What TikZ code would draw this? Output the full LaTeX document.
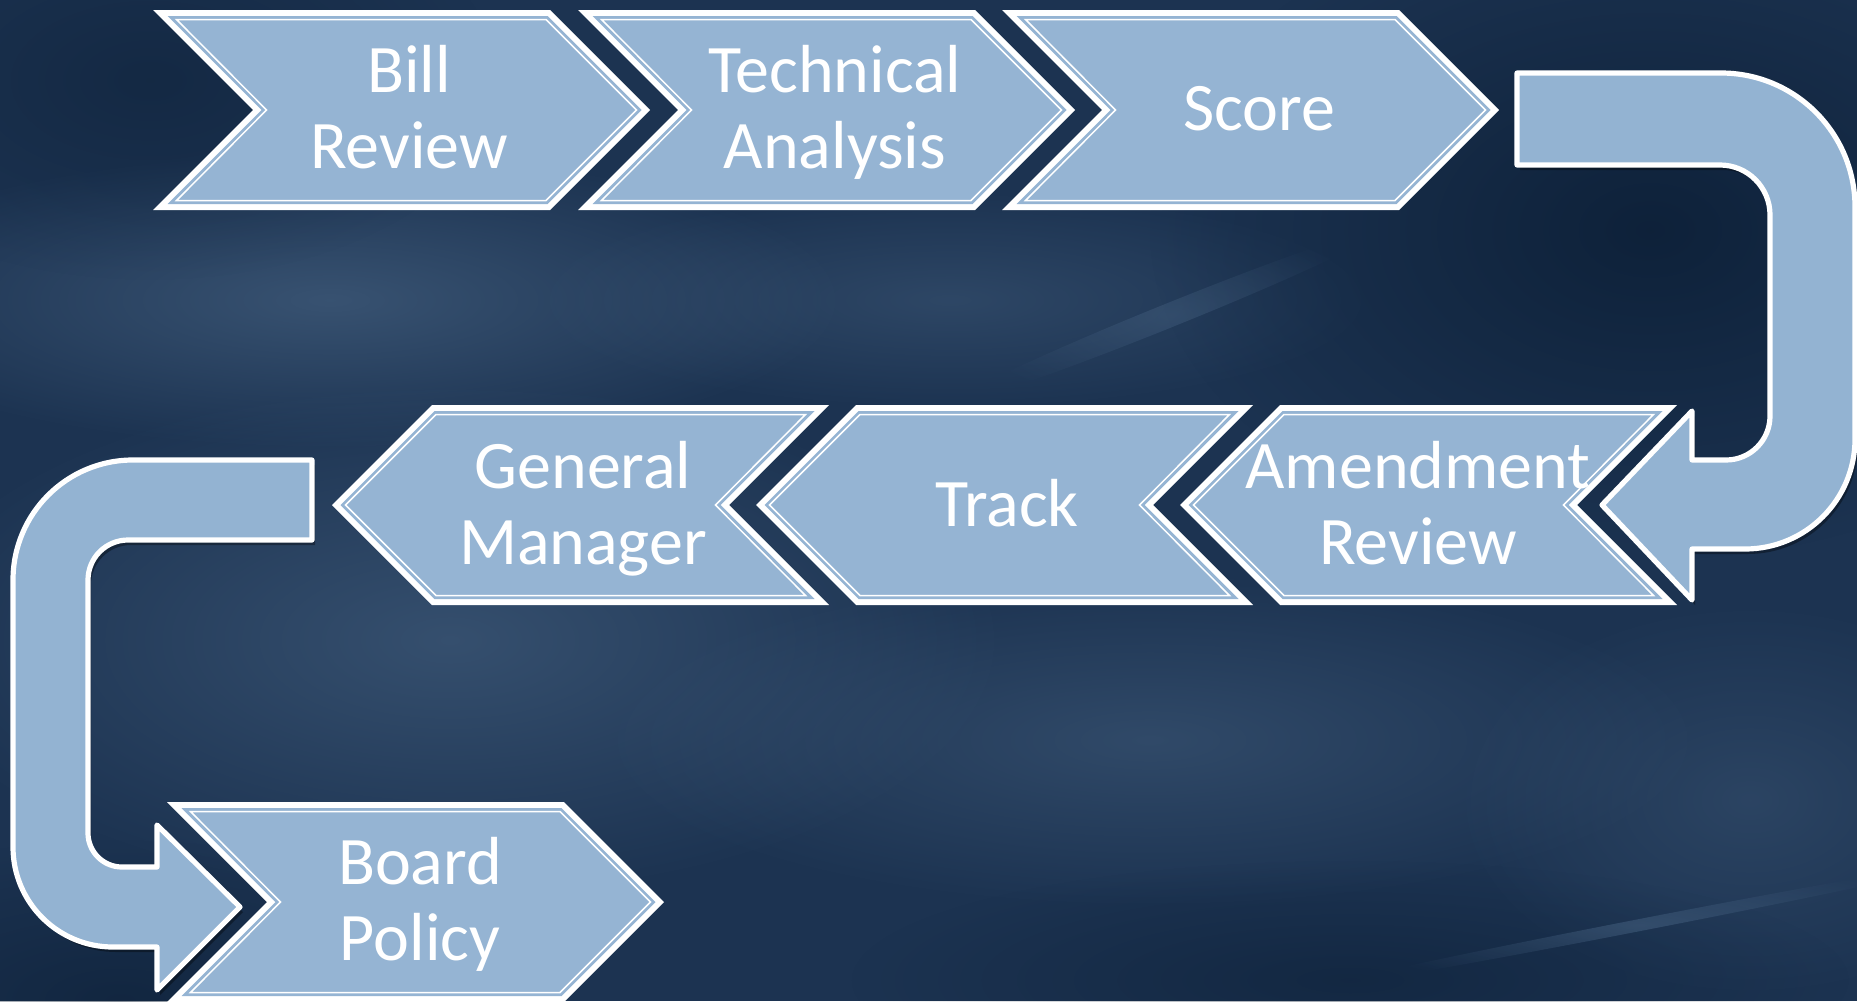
\documentclass[tikz,border=0pt]{standalone}
\usepackage{fontspec}
\setmainfont{Carlito}
\usetikzlibrary{fadings}
\tikzfading[name=softblob, inner color=transparent!0, outer color=transparent!100]
\definecolor{bgbase}{HTML}{1C3351}
\definecolor{bglight}{HTML}{4F6C8C}
\definecolor{bgdark}{HTML}{081A30}
\definecolor{chev}{HTML}{95B4D3}
\definecolor{uarrow}{HTML}{93B3D2}
\tikzset{
  lbl/.style={text=white, align=center, font=\fontsize{34}{38}\selectfont, inner sep=0pt},
  glow/.style={fill=bglight, path fading=softblob},
  shade/.style={fill=bgdark, path fading=softblob},
  uarr/.style={fill=uarrow, draw=white, line width=2.6pt, line join=round,
    preaction={fill=black, opacity=0.35, transform canvas={shift={(1.5pt,-2.5pt)}}}},
}
% right-pointing chevron: #1 name, #2 left x, #3 middle y, #4 text x, #5 text
\newcommand\rchev[5]{%
  \fill[white] (#2,{#3-100}) -- ({#2+397},{#3-100}) -- ({#2+497},#3) -- ({#2+397},{#3+100}) -- (#2,{#3+100}) -- ({#2+100},#3) -- cycle;
  \fill[chev] ({#2+14.5},{#3-94}) -- ({#2+394.5},{#3-94}) -- ({#2+488.5},#3) -- ({#2+394.5},{#3+94}) -- ({#2+14.5},{#3+94}) -- ({#2+108.5},#3) -- cycle;
  \draw[white, line width=0.75pt] ({#2+23.5},{#3-90.5}) -- ({#2+393},{#3-90.5}) -- ({#2+483.5},#3) -- ({#2+393},{#3+90.5}) -- ({#2+23.5},{#3+90.5}) -- ({#2+113.5},#3) -- cycle;
  \node[lbl] (#1) at (#4,{#3+5}) {#5};
}
% left-pointing chevron: #1 name, #2 tip x, #3 middle y, #4 text x, #5 text
\newcommand\lchev[5]{%
  \fill[white] (#2,#3) -- ({#2+100},{#3-100}) -- ({#2+497},{#3-100}) -- ({#2+397},#3) -- ({#2+497},{#3+100}) -- ({#2+100},{#3+100}) -- cycle;
  \fill[chev] ({#2+8.5},#3) -- ({#2+102.5},{#3-94}) -- ({#2+482.5},{#3-94}) -- ({#2+388.5},#3) -- ({#2+482.5},{#3+94}) -- ({#2+102.5},{#3+94}) -- cycle;
  \draw[white, line width=0.75pt] ({#2+13.5},#3) -- ({#2+104},{#3-90.5}) -- ({#2+473.5},{#3-90.5}) -- ({#2+383.5},#3) -- ({#2+473.5},{#3+90.5}) -- ({#2+104},{#3+90.5}) -- cycle;
  \node[lbl] (#1) at (#4,{#3+6}) {#5};
}
\begin{document}
\begin{tikzpicture}[x=0.5pt, y=-0.5pt]
\useasboundingbox (0,0) rectangle (1857,1001);
% background
\fill[bgbase] (0,0) rectangle (1857,1001);
\fill[glow, opacity=0.55] (330,300) ellipse (520 and 150);
\fill[glow, opacity=0.5] (450,640) ellipse (560 and 260);
\fill[glow, opacity=0.4] (1150,740) ellipse (560 and 170);
\fill[glow, opacity=0.35] (950,300) ellipse (430 and 110);
\fill[glow, opacity=0.3] (1750,800) ellipse (300 and 200);
\fill[shade, opacity=0.7] (1650,230) ellipse (500 and 330);
\fill[shade, opacity=0.5] (120,1000) ellipse (380 and 160);
\fill[shade, opacity=0.45] (1350,980) ellipse (500 and 120);
\fill[shade, opacity=0.4] (150,80) ellipse (350 and 200);
\fill[glow, opacity=0.35, rotate around={22:(1170,315)}] (1170,315) ellipse (230 and 12);
\fill[glow, opacity=0.45, rotate around={11:(1640,925)}] (1640,925) ellipse (320 and 6);
% U-turn arrows
\path[uarr] (1517,73) [rounded corners=67pt] -- (1855,73) [rounded corners=55pt] -- (1855,549) [sharp corners] -- (1692,549) -- (1692,600) -- (1602,505) -- (1692,411) -- (1692,460) [rounded corners=22pt] -- (1770,460) [rounded corners=25pt] -- (1770,165) [sharp corners] -- (1517,165) -- cycle;
\path[uarr] (312,460) [rounded corners=60pt] -- (13,460) [rounded corners=50pt] -- (13,947) [sharp corners] -- (157,947) -- (157,990) -- (240,907) -- (157,825) -- (157,867) [rounded corners=17pt] -- (88,867) [rounded corners=20pt] -- (88,540) [sharp corners] -- (312,540) -- cycle;
% chevrons
\rchev{bill}{153}{110}{409}{Bill\strut\\Review\strut}
\rchev{tech}{578}{110}{835}{Technical\strut\\Analysis\strut}
\rchev{score}{1002}{110}{1259}{Score\strut}
\lchev{gm}{332}{505}{583}{General\strut\\Manager\strut}
\lchev{track}{756}{505}{1007}{Track\strut}
\lchev{amend}{1180}{505}{1418}{Amendment\strut\\Review\strut}
\rchev{board}{167}{902}{420}{Board\strut\\Policy\strut}
\end{tikzpicture}
\end{document}
